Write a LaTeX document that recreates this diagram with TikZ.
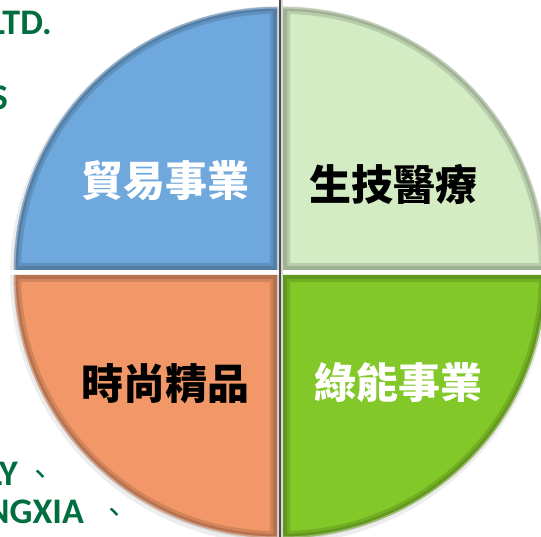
\documentclass[tikz,border=0pt]{standalone}
\usepackage{fontspec}
\setmainfont{Carlito}
\newfontfamily\cjk{Noto Sans CJK TC}
\definecolor{qblue}{RGB}{111,168,220}
\definecolor{qlgreen}{RGB}{212,236,196}
\definecolor{qorange}{RGB}{242,152,104}
\definecolor{qgreen}{RGB}{130,200,40}
\definecolor{txtgreen}{RGB}{0,110,62}
\tikzset{
  quadlabel/.style={font=\cjk\bfseries\fontsize{42}{42}\selectfont, inner sep=0pt},
  sidetext/.style={font=\bfseries\fontsize{36}{36}\selectfont, text=txtgreen, inner sep=0pt},
  sidecomma/.style={font=\cjk\fontsize{30}{30}\selectfont, text=txtgreen, inner sep=0pt},
  bevel/.style={draw=black, line width=#1, opacity=0.13},
  rim/.style={draw=white, line width=#1, opacity=0.35},
}
\newcommand\quadslice[5]{% cx, cy, start, end, color
  \fill[#5] (#1,#2) -- ++(#3:263) arc (#3:#4:263) -- cycle;
  \begin{scope}
    \clip (#1,#2) -- ++(#3:263) arc (#3:#4:263) -- cycle;
    \path[bevel=14pt] (#1,#2) -- ++(#3:263) arc (#3:#4:263) -- cycle;
    \path[bevel=8pt] (#1,#2) -- ++(#3:263) arc (#3:#4:263) -- cycle;
    \path[rim=3pt] (#1,#2) ++(#3:263) arc (#3:#4:263);
  \end{scope}
}
\begin{document}
\begin{tikzpicture}[x=1pt,y=-1pt]
\useasboundingbox (0,0) rectangle (541,537);
\clip (0,0) rectangle (541,537);
\fill[white] (0,0) rectangle (541,537);
% soft shadow
\fill[black!7] (279,275) circle (269);
\fill[black!15] (279,274) circle (266);
% gaps
\fill[white] (0,270) rectangle (541,275);
\fill[black!70] (278.5,0) rectangle (280.5,537);
\fill[black!15] (280.5,0) rectangle (282.5,537);
% slices
\quadslice{277}{270}{180}{270}{qblue}
\quadslice{283}{270}{270}{360}{qlgreen}
\quadslice{277}{275}{90}{180}{qorange}
\quadslice{283}{275}{0}{90}{qgreen}
% labels
\node[quadlabel, text=white] (trade) at (165,181) {貿易事業};
\node[quadlabel, text=black] (bio) at (393,184) {生技醫療};
\node[quadlabel, text=black] (fashion) at (165,384) {時尚精品};
\node[quadlabel, text=white] (energy) at (398,383) {綠能事業};
% side texts
\node[sidetext, anchor=base east] (ltd) at (52,35) {LTD.};
\node[sidetext, anchor=base east] (s) at (8,110) {S};
\node[sidetext, anchor=base east] (ly) at (18,485) {LY};
\node[sidecomma, anchor=center] (c1) at (40,478) {、};
\node[sidetext, anchor=base east] (ngxia) at (84,523) {NGXIA};
\node[sidecomma, anchor=center] (c2) at (114,516) {、};
\end{tikzpicture}
\end{document}
